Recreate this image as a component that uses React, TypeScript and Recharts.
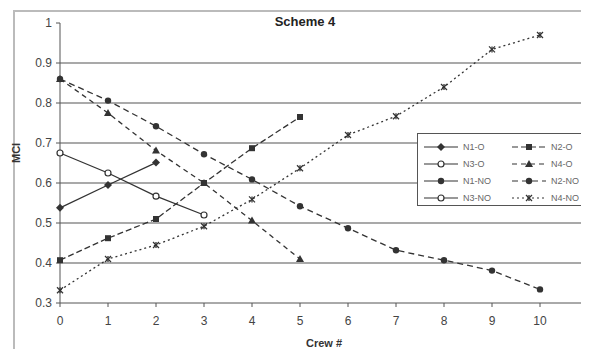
import React from 'react';
import { LineChart, Line, XAxis, YAxis, CartesianGrid, Legend } from 'recharts';

// Crew # along x, MCI on y. Empty series are only in the legend.
const crews = [0, 1, 2, 3, 4, 5, 6, 7, 8, 9, 10];
const n1O = [0.538, 0.595, 0.651];
const n2O = [0.407, 0.462, 0.51, 0.6, 0.687, 0.765];
const n3O = [0.675, 0.625, 0.567, 0.52];
const n4O = [0.86, 0.775, 0.681, 0.6, 0.506, 0.41];
const n1NO: number[] = [];
const n2NO = [0.86, 0.806, 0.742, 0.672, 0.609, 0.542, 0.487, 0.432, 0.407, 0.381, 0.334];
const n3NO: number[] = [];
const n4NO = [0.332, 0.41, 0.445, 0.492, 0.559, 0.637, 0.72, 0.767, 0.84, 0.934, 0.97];

const xTicks = [0, 1, 2, 3, 4, 5, 6, 7, 8, 9, 10, 11];
const yTicks = [0.3, 0.4, 0.5, 0.6, 0.7, 0.8, 0.9, 1];
const gridValues = [0.4, 0.5, 0.6, 0.7, 0.8, 0.9];

const ink = '#333';

const series = [
  { key: 'n1O', name: 'N1-O', values: n1O, dash: undefined, shape: 'diamond' },
  { key: 'n2O', name: 'N2-O', values: n2O, dash: '6 3', shape: 'square' },
  { key: 'n3O', name: 'N3-O', values: n3O, dash: undefined, shape: 'open' },
  { key: 'n4O', name: 'N4-O', values: n4O, dash: '5 4', shape: 'triangle' },
  { key: 'n1NO', name: 'N1-NO', values: n1NO, dash: undefined, shape: 'circle' },
  { key: 'n2NO', name: 'N2-NO', values: n2NO, dash: '6 4', shape: 'circle' },
  { key: 'n3NO', name: 'N3-NO', values: n3NO, dash: undefined, shape: 'open' },
  { key: 'n4NO', name: 'N4-NO', values: n4NO, dash: '2 3', shape: 'star' },
];

const rows = crews.map((crew, i) => {
  const row: Record<string, number | null> = { crew };
  series.forEach((s) => {
    row[s.key] = s.values[i] ?? null;
  });
  return row;
});

function marker(shape: string, cx: number, cy: number, key?: string) {
  switch (shape) {
    case 'diamond':
      return <polygon key={key} points={`${cx},${cy - 4} ${cx + 4},${cy} ${cx},${cy + 4} ${cx - 4},${cy}`} fill={ink} />;
    case 'square':
      return <rect key={key} x={cx - 3} y={cy - 3} width={6} height={6} fill={ink} />;
    case 'open':
      return <circle key={key} cx={cx} cy={cy} r={3} fill="#fff" stroke={ink} strokeWidth={1.2} />;
    case 'triangle':
      return <polygon key={key} points={`${cx},${cy - 4} ${cx + 4},${cy + 3} ${cx - 4},${cy + 3}`} fill={ink} />;
    case 'star':
      return (
        <g key={key} stroke={ink} strokeWidth={1.3}>
          <line x1={cx - 3} y1={cy - 3} x2={cx + 3} y2={cy + 3} />
          <line x1={cx - 3} y1={cy + 3} x2={cx + 3} y2={cy - 3} />
          <line x1={cx} y1={cy - 3} x2={cx} y2={cy + 3} />
        </g>
      );
    default:
      return <circle key={key} cx={cx} cy={cy} r={3.2} fill={ink} />;
  }
}

function renderLegend(props: any) {
  const order = series.map((s) => s.name);
  const payload = [...(props.payload || [])].sort(
    (a: any, b: any) => order.indexOf(a.value) - order.indexOf(b.value)
  );
  return (
    <div
      style={{
        border: '1px solid #555',
        background: '#fff',
        width: 175,
        height: 73,
        boxSizing: 'border-box',
        padding: '4px 0 0 4px',
        display: 'grid',
        gridTemplateColumns: '88px 88px',
        gridAutoRows: '17px',
        fontSize: 9,
        color: '#666',
      }}
    >
      {payload.map((p: any) => {
        const s = series.find((x) => x.name === p.value)!;
        return (
          <div key={p.value} style={{ display: 'flex', alignItems: 'center' }}>
            <svg width={38} height={10}>
              <line x1={2} y1={5} x2={36} y2={5} stroke={ink} strokeWidth={1.2} strokeDasharray={s.dash} />
              {marker(s.shape, 19, 5)}
            </svg>
            <span style={{ marginLeft: 3 }}>{p.value}</span>
          </div>
        );
      })}
    </div>
  );
}

export default function App() {
  return (
    <div
      style={{
        position: 'relative',
        width: 589,
        height: 349,
        margin: '-8px 0 0 -8px',
        background: '#fff',
        overflow: 'hidden',
        fontFamily: '"Liberation Sans", Arial, sans-serif',
      }}
    >
      <div
        style={{
          position: 'absolute',
          left: 13,
          top: 10,
          right: -5,
          bottom: -5,
          borderLeft: '2px solid #bbb',
          borderTop: '2px solid #bbb',
        }}
      />
      <div
        style={{
          position: 'absolute',
          left: 265,
          top: 14,
          width: 80,
          textAlign: 'center',
          fontSize: 13,
          fontWeight: 'bold',
          color: '#222',
          zIndex: 2,
        }}
      >
        Scheme 4
      </div>
      <LineChart
        width={589}
        height={349}
        data={rows}
        margin={{ top: 23, right: 1, bottom: 0, left: 0 }}
      >
        <CartesianGrid vertical={false} horizontalValues={gridValues} stroke="#555" strokeWidth={1.2} />
        <XAxis
          dataKey="crew"
          type="number"
          domain={[0, 11]}
          ticks={xTicks}
          interval={0}
          height={46}
          stroke="#555"
          tickSize={4}
          tickMargin={9}
          tick={{ fontSize: 12, fill: '#444' }}
          label={{ value: 'Crew #', position: 'insideBottom', offset: 2, fontSize: 11, fontWeight: 'bold', fill: '#333' }}
        />
        <YAxis
          type="number"
          domain={[0.3, 1]}
          ticks={yTicks}
          interval={0}
          width={60}
          stroke="#555"
          tickSize={4}
          tickMargin={4}
          tick={{ fontSize: 12, fill: '#444' }}
          tickFormatter={(v: number) => (v === 1 ? '1' : v.toFixed(1))}
          label={{ value: 'MCI', angle: -90, position: 'insideLeft', offset: 16, fontSize: 11, fontWeight: 'bold', fill: '#333' }}
        />
        <Legend
          layout="vertical"
          align="center"
          verticalAlign="middle"
          content={renderLegend}
          wrapperStyle={{ position: 'absolute', left: 417, top: 133, width: 175 }}
        />
        {series.map((s) => (
          <Line
            key={s.key}
            dataKey={s.key}
            name={s.name}
            stroke={ink}
            strokeWidth={1.3}
            strokeDasharray={s.dash}
            isAnimationActive={false}
            connectNulls={false}
            dot={(props: any) =>
              props.cx == null || props.cy == null || props.value == null
                ? <g key={`${s.key}-${props.index}`} />
                : marker(s.shape, props.cx, props.cy, `${s.key}-${props.index}`)
            }
            activeDot={false}
          />
        ))}
      </LineChart>
    </div>
  );
}
